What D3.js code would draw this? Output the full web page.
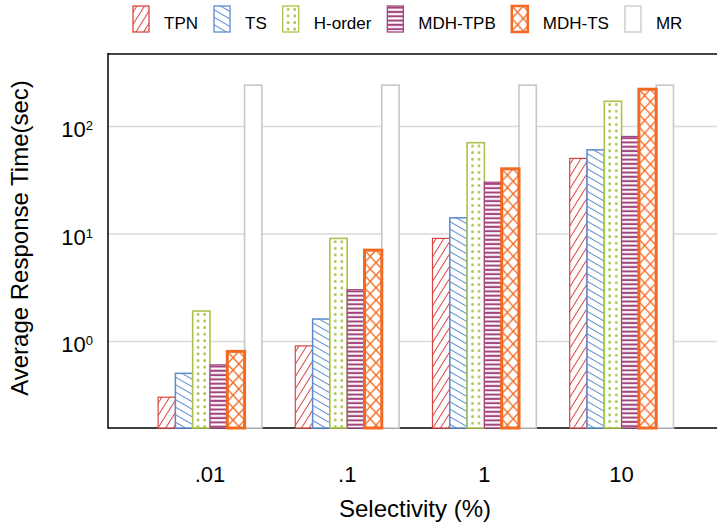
<!DOCTYPE html>
<html>
<head>
<meta charset="utf-8">
<script src="https://cdn.jsdelivr.net/npm/d3@7"></script>
<style>
  html, body { margin: 0; padding: 0; background: #fff; }
  svg { display: block; font-family: "Liberation Sans", Arial, Helvetica, sans-serif; }
</style>
</head>
<body>
<svg id="chart" width="717" height="525"></svg>
<script>
// ---- data ----
const categories = [".01", ".1", "1", "10"];
const series = ["TPN", "TS", "H-order", "MDH-TPB", "MDH-TS", "MR"];
const tpn    = [0.3, 0.9, 9, 50];
const ts     = [0.5, 1.6, 14, 60];
const hOrder = [1.9, 9, 70, 170];
const mdhTpb = [0.6, 3, 30, 80];
const mdhTs  = [0.8, 7, 40, 220];
const mr     = [240, 240, 240, 240];
const yTicks = [1, 10, 100];
const yTickLabels = ["10", "10", "10"];
const yTickExps = ["0", "1", "2"];
const xTitle = "Selectivity (%)";
const yTitle = "Average Response Time(sec)";

const valuesBySeries = { "TPN": tpn, "TS": ts, "H-order": hOrder, "MDH-TPB": mdhTpb, "MDH-TS": mdhTs, "MR": mr };

// ---- styles ----
const colors = { "TPN": "#d9453f", "TS": "#5b8bd0", "H-order": "#a8c44a", "MDH-TPB": "#a2457d", "MDH-TS": "#f26a21", "MR": "#c8c8c8" };
const strokeW = { "TPN": 1.2, "TS": 1.5, "H-order": 1.6, "MDH-TPB": 1.2, "MDH-TS": 3, "MR": 1.6 };

const svg = d3.select("#chart");
const defs = svg.append("defs");

const plotL = 108, plotR = 717, plotT = 54, plotB = 428;

const x0 = d3.scaleBand().domain(categories).range([141.4, 690.2]);
const x1 = d3.scaleBand().domain(series).range([16.7, 120.5]);
const y = d3.scaleLog().domain([0.155, 468]).range([plotB, plotT]);

let patId = 0;
function makePattern(s, ox, oy) {
  const id = "p" + (patId++);
  const c = colors[s];
  let p;
  if (s === "TPN" || s === "TS") {
    const rot = s === "TPN" ? 32 : -60;
    p = defs.append("pattern").attr("id", id).attr("patternUnits", "userSpaceOnUse")
      .attr("width", 6.5).attr("height", 20)
      .attr("patternTransform", `translate(${ox},${oy}) rotate(${rot})`);
    p.append("rect").attr("width", 6.5).attr("height", 20).attr("fill", "#fff");
    p.append("line").attr("x1", 3.25).attr("x2", 3.25).attr("y1", -1).attr("y2", 21)
      .attr("stroke", c).attr("stroke-width", 1);
  } else if (s === "H-order") {
    p = defs.append("pattern").attr("id", id).attr("patternUnits", "userSpaceOnUse")
      .attr("width", 6.6).attr("height", 6.6)
      .attr("patternTransform", `translate(${ox},${oy})`);
    p.append("rect").attr("width", 6.6).attr("height", 6.6).attr("fill", "#fff");
    p.append("circle").attr("cx", 5.4).attr("cy", 3.3).attr("r", 1.45).attr("fill", c);
  } else if (s === "MDH-TPB") {
    p = defs.append("pattern").attr("id", id).attr("patternUnits", "userSpaceOnUse")
      .attr("width", 10).attr("height", 4.3)
      .attr("patternTransform", `translate(${ox},${oy})`);
    p.append("rect").attr("width", 10).attr("height", 4.3).attr("fill", "#fff");
    p.append("rect").attr("y", 0.6).attr("width", 10).attr("height", 2.1).attr("fill", c);
  } else if (s === "MDH-TS") {
    const W = 11.5, H = 12.5;
    p = defs.append("pattern").attr("id", id).attr("patternUnits", "userSpaceOnUse")
      .attr("width", W).attr("height", H)
      .attr("patternTransform", `translate(${ox},${oy})`);
    p.append("rect").attr("width", W).attr("height", H).attr("fill", "#fff");
    p.append("line").attr("x1", 0).attr("y1", 0).attr("x2", W).attr("y2", H).attr("stroke", c).attr("stroke-width", 1.4);
    p.append("line").attr("x1", 0).attr("y1", H).attr("x2", W).attr("y2", 0).attr("stroke", c).attr("stroke-width", 1.4);
    p.append("line").attr("x1", -W).attr("y1", 0).attr("x2", 0).attr("y2", H).attr("stroke", c).attr("stroke-width", 1.4);
    p.append("line").attr("x1", W).attr("y1", H).attr("x2", 2 * W).attr("y2", 0).attr("stroke", c).attr("stroke-width", 1.4);
    p.append("line").attr("x1", W).attr("y1", 0).attr("x2", 2 * W).attr("y2", H).attr("stroke", c).attr("stroke-width", 1.4);
    p.append("line").attr("x1", -W).attr("y1", H).attr("x2", 0).attr("y2", 0).attr("stroke", c).attr("stroke-width", 1.4);
  } else {
    return "#fff";
  }
  return `url(#${id})`;
}

// ---- gridlines ----
const grid = svg.append("g").attr("transform", `translate(${plotL},0)`)
  .call(d3.axisLeft(y).tickValues(yTicks).tickSize(-(plotR - plotL)).tickFormat(""));
grid.select(".domain").remove();
grid.selectAll(".tick line").attr("stroke", "#d9d9d9").attr("stroke-width", 1.6);

// ---- baseline ----
svg.append("line").attr("x1", plotL).attr("x2", plotR).attr("y1", plotB).attr("y2", plotB)
  .attr("stroke", "#000").attr("stroke-width", 1.5);

// ---- bars ----
const drawOrder = ["TPN", "TS", "H-order", "MDH-TPB", "MR", "MDH-TS"];
const barsG = svg.append("g");
drawOrder.forEach(s => {
  const vals = valuesBySeries[s];
  categories.forEach((cat, i) => {
    const bx = x0(cat) + x1(s);
    const by = y(vals[i]);
    barsG.append("rect")
      .attr("x", bx).attr("y", by)
      .attr("width", x1.bandwidth()).attr("height", y.range()[0] - by)
      .attr("fill", makePattern(s, bx, by))
      .attr("stroke", colors[s]).attr("stroke-width", strokeW[s]);
  });
});

// ---- axes frame ----
svg.append("line").attr("x1", plotL).attr("x2", plotR).attr("y1", plotT).attr("y2", plotT)
  .attr("stroke", "#444").attr("stroke-width", 2);
svg.append("line").attr("x1", plotL).attr("x2", plotL).attr("y1", plotT - 1).attr("y2", plotB + 0.75)
  .attr("stroke", "#000").attr("stroke-width", 1.5);

// ---- y tick labels ----
const yAxisG = svg.append("g").attr("transform", `translate(${plotL},0)`)
  .call(d3.axisLeft(y).tickValues(yTicks).tickSize(0).tickFormat(""));
yAxisG.select(".domain").remove();
yAxisG.selectAll(".tick text").remove();
yAxisG.selectAll(".tick").each(function(d, i) {
  const t = d3.select(this).append("text")
    .attr("x", -15).attr("y", 10.5)
    .attr("text-anchor", "end").attr("fill", "#000")
    .style("font-size", "22px");
  t.append("tspan").text(yTickLabels[i]);
  t.append("tspan").attr("dy", -7).style("font-size", "13px").text(yTickExps[i]);
});

// ---- x tick labels ----
const xAxisG = svg.append("g").attr("transform", `translate(0,${plotB})`)
  .call(d3.axisBottom(x0).tickSize(0));
xAxisG.select(".domain").remove();
xAxisG.selectAll(".tick text").attr("y", 54).attr("dy", null)
  .attr("fill", "#000").style("font-size", "22px");

// ---- titles ----
svg.append("text").attr("x", 415).attr("y", 517).attr("text-anchor", "middle")
  .style("font-size", "24px").attr("fill", "#000").text(xTitle);
svg.append("text").attr("transform", "translate(28,238) rotate(-90)").attr("text-anchor", "middle")
  .style("font-size", "24px").attr("fill", "#000").text(yTitle);

// ---- legend ----
const legend = svg.append("g");
let lx = 133;
series.forEach(s => {
  const sw = 16, sh = 26, sy = 6;
  legend.append("rect").attr("x", lx).attr("y", sy).attr("width", sw).attr("height", sh)
    .attr("fill", makePattern(s, lx, sy))
    .attr("stroke", colors[s]).attr("stroke-width", s === "MDH-TS" ? 2.5 : 1.3);
  const t = legend.append("text").attr("x", lx + 31).attr("y", 29)
    .style("font-size", "17px").attr("fill", "#000").text(s);
  lx = lx + 31 + t.node().getComputedTextLength() + 16;
});
</script>
</body>
</html>
